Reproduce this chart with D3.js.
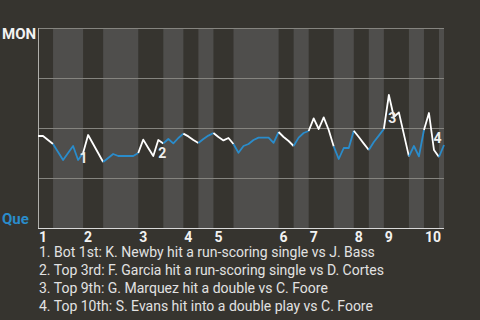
<!DOCTYPE html>
<html>
<head>
<meta charset="utf-8">
<script src="https://cdn.jsdelivr.net/npm/d3@7"></script>
<style>
  html, body { margin: 0; padding: 0; background: #36342f; }
  svg { display: block; font-family: Roboto, "Noto Sans", sans-serif; }
</style>
</head>
<body>
<svg id="chart"></svg>
<script>
var screen = {width: 480, height: 320}
var margins = {top: 28, right: 36, bottom: 92, left: 38}

// plate appearances per half inning, top 1st .. bottom 10th
var halfInningPAs = [3, 6, 4, 7, 5, 4, 3, 3, 4, 9, 3, 3, 5, 4, 3, 3, 5, 3, 3, 1]
var innings = ["1", "2", "3", "4", "5", "6", "7", "8", "9", "10"]

// MON win probability (%) after each plate appearance
var monWinProb = [
  46, 46, 44, 42,
  38, 34, 37.5, 41, 34, 37.5,
  46.5, 42, 37.5, 33,
  35, 37, 36, 36, 36, 36, 37.5,
  44.2, 40, 36, 44, 42.3,
  44.5, 42.3, 45, 47.2,
  45.8, 44, 42.5,
  44.5, 46.2, 47.5,
  45.5, 43.8, 45, 42,
  37.6, 41, 42, 44, 45.2, 45.2, 45.2, 42.6, 48,
  45.5, 43.5, 41,
  45.2, 47.5, 48.5,
  54.8, 49.5, 55.3, 49, 40.8,
  34.5, 40, 40, 48.6,
  45.5, 42.2, 39,
  43, 46.2, 49.5,
  66.5, 55.5, 57.8, 46.8, 35.8,
  41, 35.8, 49,
  57.5, 39, 35.5,
  41.5
]

var eventIndex = [8, 24, 70, 79]
var eventText = [
  "1. Bot 1st: K. Newby hit a run-scoring single vs J. Bass",
  "2. Top 3rd: F. Garcia hit a run-scoring single vs D. Cortes",
  "3. Top 9th: G. Marquez hit a double vs C. Foore",
  "4. Top 10th: S. Evans hit into a double play vs C. Foore"
]
// where each marker number sits relative to its point
var eventNudge = [[1.5, 3], [0, 18], [-0.5, 28], [-0.6, -7]]

var teams = {top: "MON", bottom: "Que"}
var colors = {bg: "#36342f", band: "#4f4e4c", grid: "#85847f", away: "#ffffff", home: "#2a8ccb", text: "#e2e2e2"}

var svg = d3.select("#chart")
    .attr("width", screen.width)
    .attr("height", screen.height)

svg.append("rect")
    .attr("width", screen.width)
    .attr("height", screen.height)
    .attr("fill", colors.bg)

var width = screen.width - margins.left - margins.right
var height = screen.height - margins.top - margins.bottom

var totalPAs = d3.sum(halfInningPAs)

var xScale = d3.scaleLinear()
    .domain([0, totalPAs])
    .range([margins.left, margins.left + width])

var yScale = d3.scaleLinear()
    .domain([0, 100])
    .range([margins.top + height, margins.top])

// half inning spans
var halves = []
var start = 0
halfInningPAs.forEach(function(n, i) {
    halves.push({start: start, end: start + n, top: i % 2 == 0, inning: Math.floor(i / 2)})
    start += n
})

svg.append("g")
    .selectAll("rect")
    .data(halves.filter(function(h) { return !h.top }))
    .enter()
    .append("rect")
    .attr("x", function(h) { return xScale(h.start) })
    .attr("width", function(h) { return xScale(h.end) - xScale(h.start) })
    .attr("y", yScale(100))
    .attr("height", yScale(0) - yScale(100))
    .attr("fill", colors.band)

svg.append("g")
    .selectAll("line")
    .data([25, 50, 75, 100])
    .enter()
    .append("line")
    .attr("x1", xScale(0))
    .attr("x2", xScale(totalPAs))
    .attr("y1", function(d) { return yScale(d) + 0.5 })
    .attr("y2", function(d) { return yScale(d) + 0.5 })
    .attr("stroke", colors.grid)
    .attr("stroke-width", 1)

// axes frame
svg.append("line")
    .attr("x1", xScale(0) + 0.5).attr("x2", xScale(0) + 0.5)
    .attr("y1", yScale(100)).attr("y2", yScale(0) + 1)
    .attr("stroke", "#b0afab")
svg.append("line")
    .attr("x1", xScale(0)).attr("x2", xScale(totalPAs))
    .attr("y1", yScale(0) + 0.5).attr("y2", yScale(0) + 0.5)
    .attr("stroke", "#d8d8d8")

// inning labels
svg.append("g")
    .selectAll("text")
    .data(halves.filter(function(h) { return h.top }))
    .enter()
    .append("text")
    .attr("x", function(h) { return xScale(h.start) + 1 })
    .attr("y", 242)
    .attr("fill", "#f2f2f2")
    .style("font-size", "14px")
    .style("font-weight", "bold")
    .text(function(h) { return innings[h.inning] })

// win probability line, coloured by batting team
var line = d3.line()
    .x(function(i) { return xScale(i) })
    .y(function(i) { return yScale(monWinProb[i]) })

svg.append("g")
    .selectAll("path")
    .data(halves)
    .enter()
    .append("path")
    .attr("d", function(h) { return line(d3.range(h.start, h.end + 1)) })
    .attr("fill", "none")
    .attr("stroke", function(h) { return h.top ? colors.away : colors.home })
    .attr("stroke-width", 1.8)
    .attr("stroke-linejoin", "round")

// event markers
svg.append("g")
    .selectAll("text")
    .data(eventIndex)
    .enter()
    .append("text")
    .attr("x", function(idx, k) { return xScale(idx) + eventNudge[k][0] })
    .attr("y", function(idx, k) { return yScale(monWinProb[idx]) + eventNudge[k][1] })
    .attr("fill", "#eeeeee")
    .style("font-size", "14px")
    .style("font-weight", "bold")
    .text(function(idx, k) { return k + 1 })

// team labels
svg.append("text")
    .attr("x", 2).attr("y", 39)
    .attr("fill", "#f2f2f2")
    .style("font-size", "15px")
    .style("font-weight", "bold")
    .text(teams.top)
svg.append("text")
    .attr("x", 2).attr("y", 224)
    .attr("fill", colors.home)
    .style("font-size", "15px")
    .style("font-weight", "bold")
    .text(teams.bottom)

// event descriptions
svg.append("g")
    .selectAll("text")
    .data(eventText)
    .enter()
    .append("text")
    .attr("x", 39)
    .attr("y", function(t, i) { return 257 + i * 18 })
    .attr("fill", colors.text)
    .style("font-size", "14px")
    .text(function(t) { return t })
</script>
</body>
</html>
